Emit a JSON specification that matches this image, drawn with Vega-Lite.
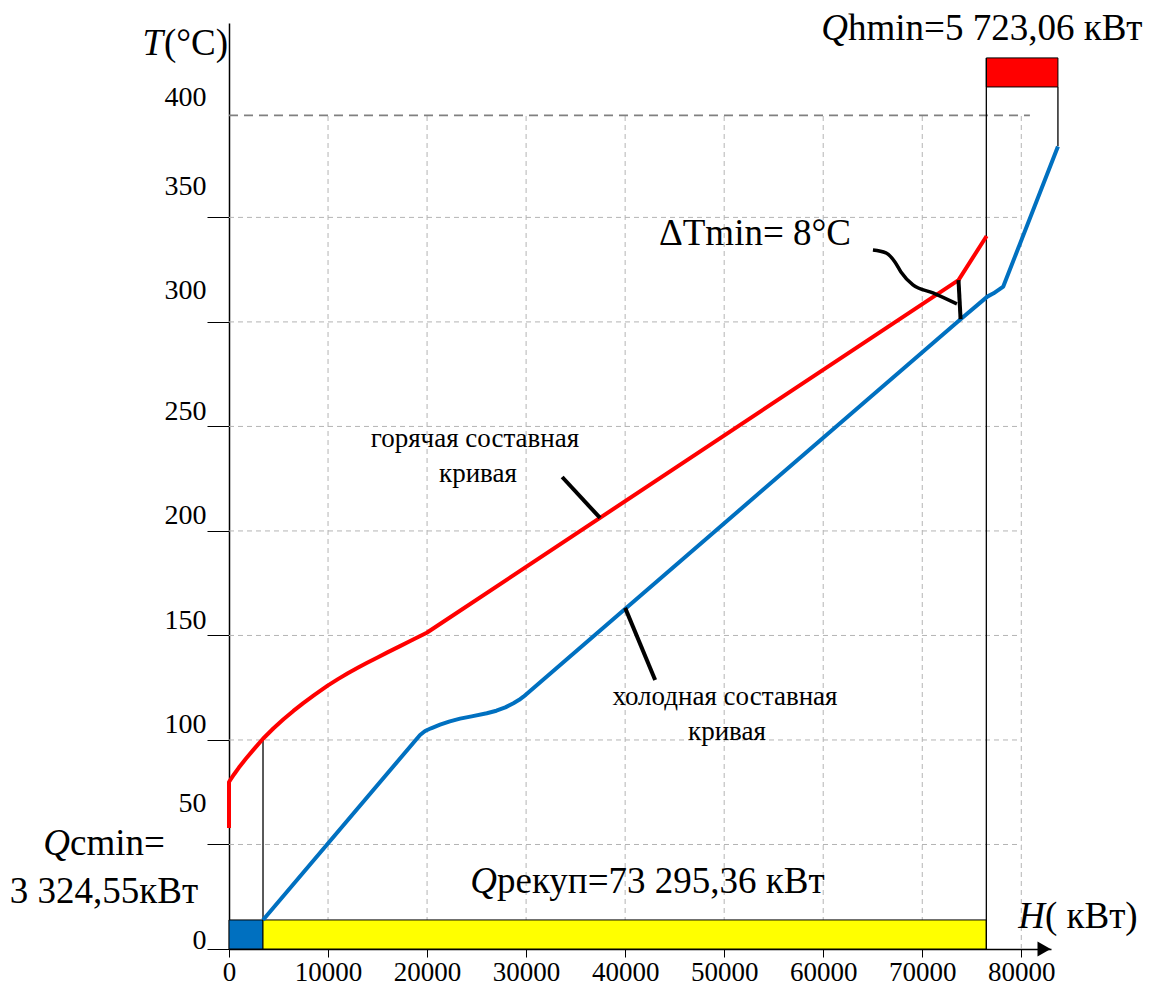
{
  "$schema": "https://vega.github.io/schema/vega-lite/v6.json",
  "width": 822,
  "height": 926,
  "autosize": {"type": "none"},
  "padding": {"left": 229, "top": 23, "right": 103, "bottom": 41},
  "background": "white",
  "config": {"view": {"stroke": null}, "text": {"font": "Liberation Serif"}},
  "datasets": {
    "vgrid": [{"H": 10000}, {"H": 20000}, {"H": 30000}, {"H": 40000}, {"H": 50000}, {"H": 60000}, {"H": 70000}, {"H": 80000}],
    "hgrid": [{"T": 50}, {"T": 100}, {"T": 150}, {"T": 200}, {"T": 250}, {"T": 300}, {"T": 350}],
    "limit": [{"T": 398.8}],
    "bars": [
      {"k": "cold", "H": 0, "H2": 3434, "T": 0, "T2": 13.9},
      {"k": "rec", "H": 3434, "H2": 76470, "T": 0, "T2": 13.9},
      {"k": "hot", "H": 76470, "H2": 83700, "T": 412.4, "T2": 426.3}
    ],
    "thin": [
      {"H": 3434, "T": 13.9, "H2": 3434, "T2": 100.6},
      {"H": 76470, "T": 0, "H2": 76470, "T2": 426.3},
      {"H": 83700, "T": 384, "H2": 83700, "T2": 412.4}
    ],
    "hot": [
      {"H": 0, "T": 57.9}, {"H": 0, "T": 79.9}, {"H": 500, "T": 83.5}, {"H": 1000, "T": 86.8},
      {"H": 1700, "T": 91.0}, {"H": 2500, "T": 95.5}, {"H": 3434, "T": 100.6}, {"H": 4500, "T": 105.6},
      {"H": 5500, "T": 109.9}, {"H": 6500, "T": 113.9}, {"H": 7500, "T": 117.6}, {"H": 8700, "T": 121.8},
      {"H": 9960, "T": 126.0}, {"H": 11000, "T": 129.1}, {"H": 12000, "T": 131.9}, {"H": 13000, "T": 134.5},
      {"H": 13900, "T": 136.8}, {"H": 15000, "T": 139.5}, {"H": 16000, "T": 141.9}, {"H": 17270, "T": 144.9},
      {"H": 18500, "T": 147.8}, {"H": 19970, "T": 151.3}, {"H": 73660, "T": 320}, {"H": 76500, "T": 341.1}
    ],
    "cold": [
      {"H": 3434, "T": 13.9}, {"H": 19290, "T": 102.4}, {"H": 19800, "T": 104.3}, {"H": 20400, "T": 105.6},
      {"H": 21310, "T": 107.3}, {"H": 22300, "T": 108.9}, {"H": 23330, "T": 110.2}, {"H": 24500, "T": 111.3},
      {"H": 26030, "T": 112.8}, {"H": 27000, "T": 114.0}, {"H": 27900, "T": 115.6}, {"H": 28720, "T": 117.6},
      {"H": 29300, "T": 119.2}, {"H": 29730, "T": 120.7}, {"H": 73870, "T": 301.3}, {"H": 76570, "T": 312.1},
      {"H": 77200, "T": 313.7}, {"H": 78180, "T": 316.9}, {"H": 83700, "T": 383.9}
    ],
    "pointers": [
      {"H": 33640, "T": 225.8, "H2": 37470, "T2": 206.2},
      {"H": 40000, "T": 163.2, "H2": 43030, "T2": 128.7},
      {"H": 73660, "T": 320, "H2": 73870, "T2": 301.3}
    ],
    "brace": [
      {"H": 65020, "T": 334.4}, {"H": 66330, "T": 333.0}, {"H": 67240, "T": 328.7}, {"H": 67850, "T": 323.9},
      {"H": 69060, "T": 317.7}, {"H": 71080, "T": 313.9}, {"H": 73500, "T": 308.6}
    ],
    "arrow": [{"H": 82300, "T": 0}],
    "bigLeft": [
      {"txt": "hmin=5 723,06 кВт", "H": 62500, "T": 434.9},
      {"txt": "рекуп=73 295,36 кВт", "H": 27060, "T": 26.8},
      {"txt": "cmin=", "H": -16050, "T": 45},
      {"txt": "( кВт)", "H": 82390, "T": 10}
    ],
    "bigCenter": [
      {"txt": "ΔTmin= 8°C", "H": 53110, "T": 336.8},
      {"txt": "3 324,55кВт", "H": -12620, "T": 22}
    ],
    "bigRight": [{"txt": "(°C)", "H": -100, "T": 427.8}],
    "italic": [
      {"txt": "Q", "H": 62500, "T": 434.9},
      {"txt": "Q", "H": 27060, "T": 26.8},
      {"txt": "Q", "H": -16050, "T": 45},
      {"txt": "H", "H": 82390, "T": 10},
      {"txt": "T", "H": -6660, "T": 427.8}
    ],
    "curveLabels": [
      {"txt": "горячая составная", "H": 24840, "T": 240.2},
      {"txt": "кривая", "H": 25140, "T": 223.4},
      {"txt": "холодная составная", "H": 50080, "T": 116.7},
      {"txt": "кривая", "H": 50280, "T": 100}
    ]
  },
  "layer": [
    {
      "data": {"name": "vgrid"},
      "mark": {"type": "rule", "color": "#b4b4b4", "strokeWidth": 1, "strokeDash": [5, 4]},
      "encoding": {
        "x": {"field": "H", "type": "quantitative", "title": null, "scale": {"domain": [0, 83000], "nice": false, "zero": false}},
        "y": {"datum": 0, "type": "quantitative", "scale": {"domain": [0, 443], "nice": false, "zero": false}},
        "y2": {"datum": 398.8}
      }
    },
    {
      "data": {"name": "hgrid"},
      "mark": {"type": "rule", "color": "#b4b4b4", "strokeWidth": 1, "strokeDash": [5, 4]},
      "encoding": {
        "y": {"field": "T", "type": "quantitative", "title": null, "scale": {"domain": [0, 443], "nice": false, "zero": false}},
        "x": {"datum": 0, "type": "quantitative", "scale": {"domain": [0, 83000], "nice": false, "zero": false}},
        "x2": {"datum": 80000}
      }
    },
    {
      "data": {"name": "limit"},
      "mark": {"type": "rule", "color": "#808080", "strokeWidth": 1.6, "strokeDash": [9, 6]},
      "encoding": {
        "y": {"field": "T", "type": "quantitative", "title": null, "scale": {"domain": [0, 443], "nice": false, "zero": false}},
        "x": {"datum": 0, "type": "quantitative", "scale": {"domain": [0, 83000], "nice": false, "zero": false}},
        "x2": {"datum": 80870}
      }
    },
    {
      "data": {"name": "bars"},
      "mark": {"type": "rect", "stroke": "black", "strokeWidth": 1},
      "encoding": {
        "x": {
          "field": "H", "type": "quantitative", "title": null,
          "scale": {"domain": [0, 83000], "nice": false, "zero": false},
          "axis": {
            "values": [0, 10000, 20000, 30000, 40000, 50000, 60000, 70000, 80000],
            "format": "d", "grid": false, "title": null,
            "labelFont": "Liberation Serif", "labelFontSize": 27, "labelColor": "black",
            "domainColor": "black", "domainWidth": 1.5, "tickColor": "black", "tickSize": 8,
            "labelPadding": 2, "labelOverlap": false, "labelFlush": false
          }
        },
        "y": {
          "field": "T", "type": "quantitative", "title": null,
          "scale": {"domain": [0, 443], "nice": false, "zero": false},
          "axis": {
            "values": [0, 50, 100, 150, 200, 250, 300, 350, 400],
            "grid": false, "title": null,
            "labelFont": "Liberation Serif", "labelFontSize": 28, "labelColor": "black",
            "domainColor": "black", "domainWidth": 1.5, "tickColor": "black", "tickSize": 22,
            "labelPadding": 1, "labelOverlap": false, "labelFlush": false, "labelBaseline": "middle",
            "labelOffset": {
              "condition": [
                {"test": "datum.value == 50", "value": -41},
                {"test": "datum.value == 300 || datum.value == 350", "value": -31},
                {"test": "datum.value == 0", "value": -9}
              ],
              "value": -15
            },
            "tickOpacity": {"condition": {"test": "datum.value == 400", "value": 0}, "value": 1}
          }
        },
        "x2": {"field": "H2"},
        "y2": {"field": "T2"},
        "color": {"field": "k", "type": "nominal", "legend": null,
          "scale": {"domain": ["cold", "rec", "hot"], "range": ["#0070C0", "#FFFF00", "#FF0000"]}}
      }
    },
    {
      "data": {"name": "thin"},
      "mark": {"type": "rule", "color": "black", "strokeWidth": 1.3},
      "encoding": {
        "x": {"field": "H", "type": "quantitative", "title": null, "scale": {"domain": [0, 83000], "nice": false, "zero": false}},
        "y": {"field": "T", "type": "quantitative", "title": null, "scale": {"domain": [0, 443], "nice": false, "zero": false}},
        "x2": {"field": "H2"}, "y2": {"field": "T2"}
      }
    },
    {
      "data": {"name": "hot"},
      "mark": {"type": "line", "color": "#FF0000", "strokeWidth": 4, "strokeJoin": "round"},
      "encoding": {
        "x": {"field": "H", "type": "quantitative", "title": null, "scale": {"domain": [0, 83000], "nice": false, "zero": false}},
        "y": {"field": "T", "type": "quantitative", "title": null, "scale": {"domain": [0, 443], "nice": false, "zero": false}},
        "order": {"value": null}
      }
    },
    {
      "data": {"name": "cold"},
      "mark": {"type": "line", "color": "#0070C0", "strokeWidth": 4, "strokeJoin": "round"},
      "encoding": {
        "x": {"field": "H", "type": "quantitative", "title": null, "scale": {"domain": [0, 83000], "nice": false, "zero": false}},
        "y": {"field": "T", "type": "quantitative", "title": null, "scale": {"domain": [0, 443], "nice": false, "zero": false}},
        "order": {"value": null}
      }
    },
    {
      "data": {"name": "pointers"},
      "mark": {"type": "rule", "color": "black", "strokeWidth": 4},
      "encoding": {
        "x": {"field": "H", "type": "quantitative", "title": null, "scale": {"domain": [0, 83000], "nice": false, "zero": false}},
        "y": {"field": "T", "type": "quantitative", "title": null, "scale": {"domain": [0, 443], "nice": false, "zero": false}},
        "x2": {"field": "H2"}, "y2": {"field": "T2"}
      }
    },
    {
      "data": {"name": "brace"},
      "mark": {"type": "line", "color": "black", "strokeWidth": 3.5, "interpolate": "monotone"},
      "encoding": {
        "x": {"field": "H", "type": "quantitative", "title": null, "scale": {"domain": [0, 83000], "nice": false, "zero": false}},
        "y": {"field": "T", "type": "quantitative", "title": null, "scale": {"domain": [0, 443], "nice": false, "zero": false}},
        "order": {"value": null}
      }
    },
    {
      "data": {"name": "arrow"},
      "mark": {"type": "point", "shape": "triangle-right", "filled": true, "color": "black", "size": 230, "opacity": 1},
      "encoding": {
        "x": {"field": "H", "type": "quantitative", "title": null, "scale": {"domain": [0, 83000], "nice": false, "zero": false}},
        "y": {"field": "T", "type": "quantitative", "title": null, "scale": {"domain": [0, 443], "nice": false, "zero": false}}
      }
    },
    {
      "data": {"name": "bigLeft"},
      "mark": {"type": "text", "align": "left", "baseline": "alphabetic", "fontSize": 37, "font": "Liberation Serif", "color": "black"},
      "encoding": {
        "x": {"field": "H", "type": "quantitative", "title": null, "scale": {"domain": [0, 83000], "nice": false, "zero": false}},
        "y": {"field": "T", "type": "quantitative", "title": null, "scale": {"domain": [0, 443], "nice": false, "zero": false}},
        "text": {"field": "txt", "type": "nominal"}
      }
    },
    {
      "data": {"name": "bigCenter"},
      "mark": {"type": "text", "align": "center", "baseline": "alphabetic", "fontSize": 37, "font": "Liberation Serif", "color": "black"},
      "encoding": {
        "x": {"field": "H", "type": "quantitative", "title": null, "scale": {"domain": [0, 83000], "nice": false, "zero": false}},
        "y": {"field": "T", "type": "quantitative", "title": null, "scale": {"domain": [0, 443], "nice": false, "zero": false}},
        "text": {"field": "txt", "type": "nominal"}
      }
    },
    {
      "data": {"name": "bigRight"},
      "mark": {"type": "text", "align": "right", "baseline": "alphabetic", "fontSize": 37, "font": "Liberation Serif", "color": "black"},
      "encoding": {
        "x": {"field": "H", "type": "quantitative", "title": null, "scale": {"domain": [0, 83000], "nice": false, "zero": false}},
        "y": {"field": "T", "type": "quantitative", "title": null, "scale": {"domain": [0, 443], "nice": false, "zero": false}},
        "text": {"field": "txt", "type": "nominal"}
      }
    },
    {
      "data": {"name": "italic"},
      "mark": {"type": "text", "align": "right", "baseline": "alphabetic", "fontSize": 37, "font": "Liberation Serif", "fontStyle": "italic", "color": "black"},
      "encoding": {
        "x": {"field": "H", "type": "quantitative", "title": null, "scale": {"domain": [0, 83000], "nice": false, "zero": false}},
        "y": {"field": "T", "type": "quantitative", "title": null, "scale": {"domain": [0, 443], "nice": false, "zero": false}},
        "text": {"field": "txt", "type": "nominal"}
      }
    },
    {
      "data": {"name": "curveLabels"},
      "mark": {"type": "text", "align": "center", "baseline": "alphabetic", "fontSize": 27, "font": "Liberation Serif", "color": "black"},
      "encoding": {
        "x": {"field": "H", "type": "quantitative", "title": null, "scale": {"domain": [0, 83000], "nice": false, "zero": false}},
        "y": {"field": "T", "type": "quantitative", "title": null, "scale": {"domain": [0, 443], "nice": false, "zero": false}},
        "text": {"field": "txt", "type": "nominal"}
      }
    }
  ]
}
